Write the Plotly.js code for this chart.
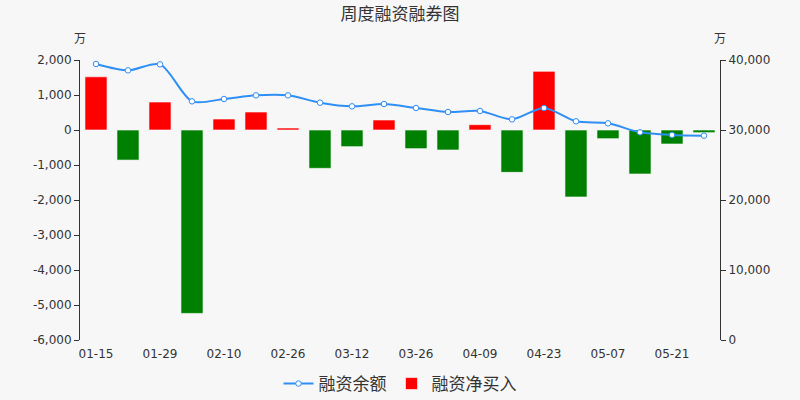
<!DOCTYPE html>
<html>
<head>
<meta charset="utf-8">
<script src="https://cdn.plot.ly/plotly-3.0.1.min.js"></script>
<style>html,body{margin:0;padding:0;background:#f7f7f7;}</style>
</head>
<body>
<div id="chart" style="width:800px;height:400px;"></div>
<script>
const dates = ["01-15","01-22","01-29","02-05","02-10","02-19","02-26","03-05","03-12","03-19",
               "03-26","04-02","04-09","04-16","04-23","04-30","05-07","05-14","05-21","05-28"];
const tickLabels = ["01-15","01-29","02-10","02-26","03-12","03-26","04-09","04-23","05-07","05-21"];
const netBuy = [1520, -860, 800, -5240, 314, 514, 57, -1095, -476, 286,
                -533, -571, 152, -1210, 1676, -1914, -248, -1257, -400, -76];
const balance = [39430, 38520, 39380, 34095, 34430, 34950, 34950, 33905, 33380, 33715,
                 33145, 32570, 32715, 31525, 33145, 31240, 30950, 29670, 29290, 29190];
const leftTicks = [-6000, -5000, -4000, -3000, -2000, -1000, 0, 1000, 2000];
const rightTicks = [0, 10000, 20000, 30000, 40000];
const seriesNames = ["融资余额", "融资净买入"];
const titleText = "周度融资融券图";
const unitText = "万";

const fmt = v => (v < 0 ? "-" : "") + Math.abs(v).toString().replace(/\B(?=(\d{3})+(?!\d))/g, ",");
const barColors = netBuy.map(v => v >= 0 ? "#ff0000" : "#008000");
const boundaryTicks = [];
for (let i = 1; i < dates.length; i += 2) boundaryTicks.push(i + 0.5);

const font = "DejaVu Sans, Noto Sans CJK SC, sans-serif";
const cjk = "Noto Sans CJK SC, sans-serif";

const traces = [
  {
    type: "scatter", mode: "lines+markers", name: seriesNames[0],
    x: dates, y: balance, xaxis: "x", yaxis: "y2",
    line: {color: "#2f8ff5", width: 2, shape: "spline", smoothing: 0.8},
    marker: {size: 5.5, color: "#ffffff", line: {color: "#2f8ff5", width: 1}}
  },
  {
    type: "bar", name: seriesNames[1],
    x: dates, y: netBuy, xaxis: "x", yaxis: "y",
    marker: {color: barColors, line: {color: "rgba(255,255,255,0.6)", width: 1}}
  }
];

const layout = {
  width: 800, height: 400,
  paper_bgcolor: "#f7f7f7", plot_bgcolor: "#f7f7f7",
  margin: {l: 80, r: 80, t: 60, b: 60, autoexpand: false},
  font: {family: font, size: 12, color: "#333"},
  title: {text: titleText, x: 0.5, xanchor: "center", y: 0.965, yanchor: "middle",
          font: {family: cjk, size: 17, color: "#333"}},
  showlegend: true,
  legend: {orientation: "h", x: 0.5, xanchor: "center", yref: "container", y: 0.04, yanchor: "middle",
           traceorder: "normal", font: {family: cjk, size: 17, color: "#333"},
           bgcolor: "rgba(0,0,0,0)", itemwidth: 30},
  bargap: 0.31,
  xaxis: {
    type: "category", categoryorder: "array", categoryarray: dates,
    range: [-0.5, dates.length - 0.5], automargin: false,
    tickmode: "array", tickvals: tickLabels, ticktext: tickLabels,
    ticks: "", ticklabelstandoff: 5, showline: false, showgrid: false, zeroline: false,
    tickfont: {size: 12, color: "#333"}
  },
  xaxis2: {
    overlaying: "x", anchor: "free", position: 0.75,
    range: [-0.5, dates.length - 0.5],
    tickmode: "array", tickvals: boundaryTicks, showticklabels: false,
    ticks: "outside", ticklen: 5, tickcolor: "#333", tickwidth: 1,
    showline: true, linecolor: "#333", linewidth: 1,
    showgrid: false, zeroline: false
  },
  yaxis: {
    range: [-6000, 2000], automargin: false,
    tickmode: "array", tickvals: leftTicks, ticktext: leftTicks.map(fmt),
    showgrid: false, zeroline: false,
    showline: true, linecolor: "#333", linewidth: 1,
    ticks: "outside", ticklen: 5, tickcolor: "#333",
    tickfont: {size: 12, color: "#333"}
  },
  yaxis2: {
    range: [0, 40000], automargin: false,
    tickmode: "array", tickvals: rightTicks, ticktext: rightTicks.map(fmt),
    overlaying: "y", side: "right",
    showgrid: false, zeroline: false,
    showline: true, linecolor: "#333", linewidth: 1,
    ticks: "outside", ticklen: 5, tickcolor: "#333",
    tickfont: {size: 12, color: "#333"}
  },
  annotations: [
    {text: unitText, xref: "paper", yref: "paper", x: 0, y: 1.0, xanchor: "center", yanchor: "bottom",
     yshift: 12, showarrow: false, font: {family: cjk, size: 12, color: "#333"}},
    {text: unitText, xref: "paper", yref: "paper", x: 1, y: 1.0, xanchor: "center", yanchor: "bottom",
     yshift: 12, showarrow: false, font: {family: cjk, size: 12, color: "#333"}}
  ]
};

Plotly.newPlot("chart", traces, layout, {displayModeBar: false, staticPlot: true});
</script>
</body>
</html>
